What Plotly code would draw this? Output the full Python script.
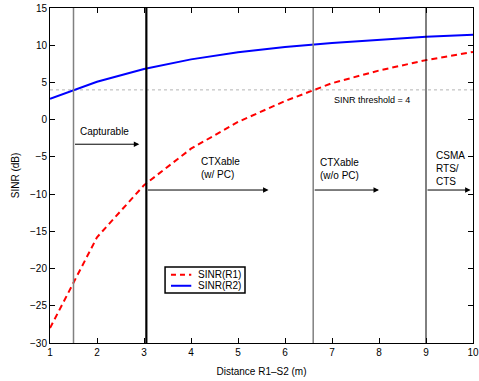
import plotly.graph_objects as go

# ---- data ----
distance = [1, 2, 3, 4, 5, 6, 7, 8, 9, 10]
sinr_r1 = [-28.0, -15.8, -8.8, -3.9, -0.3, 2.5, 4.9, 6.6, 8.0, 9.1]
sinr_r2 = [2.8, 5.1, 6.8, 8.1, 9.05, 9.75, 10.3, 10.75, 11.15, 11.4]
threshold = 4
region_bounds = [1.5, 3.05, 6.6, 9.0]
region_arrow_ends = [2.9, 5.65, 8.0, 9.95]
region_arrow_y = [-3.3, -9.45, -9.45, -9.45]
x_ticks = [1, 2, 3, 4, 5, 6, 7, 8, 9, 10]
y_ticks = [-30, -25, -20, -15, -10, -5, 0, 5, 10, 15]
y_tick_text = ["\u221230", "\u221225", "\u221220", "\u221215", "\u221210", "\u22125", "0", "5", "10", "15"]

FONT = "Liberation Sans, Arial, sans-serif"

fig = go.Figure()
traces = [
    ("SINR(R1)", sinr_r1, dict(color="#ff0000", width=2, dash="6px,4px")),
    ("SINR(R2)", sinr_r2, dict(color="#0000ff", width=2)),
]
for name, ys, ln in traces:
    fig.add_trace(go.Scatter(x=distance, y=ys, mode="lines", name=name, line=ln,
                             showlegend=False))

# threshold line
fig.add_shape(type="line", xref="paper", x0=0, x1=1, yref="y", y0=threshold, y1=threshold,
              line=dict(color="#b4b4b4", width=1, dash="dot"), layer="below")

# vertical boundaries
styles = [("#808080", 1.5), ("#000000", 2.2), ("#808080", 1.5), ("#000000", 1)]
for xb, (c, w) in zip(region_bounds, styles):
    fig.add_shape(type="line", x0=xb, x1=xb, yref="paper", y0=0, y1=1,
                  line=dict(color=c, width=w))

# arrows
for xs, xe, ya in zip(region_bounds, region_arrow_ends, region_arrow_y):
    fig.add_annotation(x=xe, y=ya, ax=xs, ay=ya, axref="x", ayref="y", xref="x", yref="y",
                       showarrow=True, arrowhead=2, arrowsize=1.1, arrowwidth=1,
                       arrowcolor="#000000", text="")

tf = dict(family=FONT, size=10, color="#000000")
fig.add_annotation(x=2.17, y=-1.6, text="Capturable", showarrow=False, font=tf)
fig.add_annotation(x=4.17, y=-6.5, text="CTXable<br>(w/ PC)", showarrow=False,
                   xanchor="left", align="left", font=tf)
fig.add_annotation(x=6.70, y=-6.6, text="CTXable<br>(w/o PC)", showarrow=False,
                   xanchor="left", align="left", font=tf)
fig.add_annotation(x=9.17, y=-6.6, text="CSMA<br>RTS/<br>CTS", showarrow=False,
                   xanchor="left", align="left", font=tf)
fig.add_annotation(x=7.85, y=2.6, text="SINR threshold = 4", showarrow=False,
                   font=dict(family=FONT, size=9, color="#000000"))

# compact MATLAB-style legend box (paper coordinates)
lx0, lx1, ly0, ly1 = 0.272, 0.461, 0.149, 0.227
fig.add_shape(type="rect", xref="paper", yref="paper", x0=lx0, x1=lx1, y0=ly0, y1=ly1,
              line=dict(color="#000000", width=1.5), fillcolor="white")
row_y = [ly1 - (ly1 - ly0) * 0.3, ly1 - (ly1 - ly0) * 0.72]
for (name, _, ln), ry in zip(traces, row_y):
    fig.add_shape(type="line", xref="paper", yref="paper", x0=lx0 + 0.014, x1=lx0 + 0.062,
                  y0=ry, y1=ry, line=dict(color=ln["color"], width=2,
                                          dash="5px,4px" if "dash" in ln else "solid"))
    fig.add_annotation(xref="paper", yref="paper", x=lx0 + 0.072, y=ry, text=name,
                       showarrow=False, xanchor="left", yanchor="middle", font=tf)

axis_common = dict(showgrid=False, zeroline=False, showline=True, linecolor="#000000",
                   linewidth=1, mirror="ticks", ticks="inside", ticklen=5,
                   tickcolor="#000000", tickfont=dict(family=FONT, size=10, color="#000000"),
                   automargin=False)

fig.update_layout(
    width=479, height=381,
    margin=dict(l=50, r=6, t=8, b=38),
    paper_bgcolor="white", plot_bgcolor="white",
    font=dict(family=FONT, size=10, color="#000000"),
    xaxis=dict(range=[1, 10], tickvals=x_ticks,
               title=dict(text="Distance R1\u2013S2 (m)", font=dict(size=10), standoff=10),
               **axis_common),
    yaxis=dict(range=[-30, 15], tickvals=y_ticks, ticktext=y_tick_text,
               title=dict(text="SINR (dB)", font=dict(size=10), standoff=8),
               **axis_common),
    showlegend=False,
)

fig.write_html("out.html")
